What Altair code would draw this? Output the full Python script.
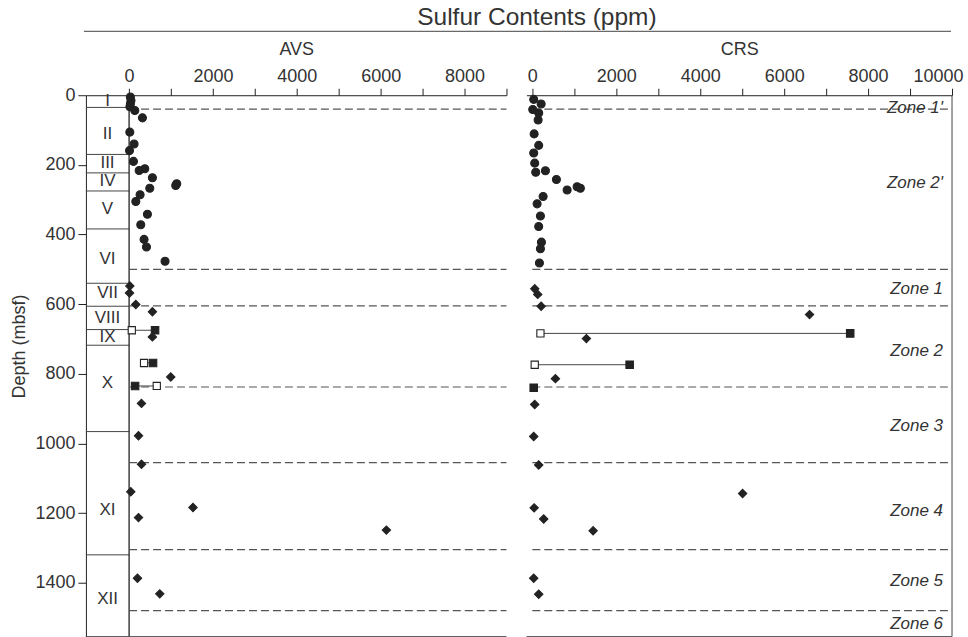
import altair as alt
import pandas as pd

FONT = "Liberation Sans"
INK = "#222222"
TXT = "#333333"

YMAX = 1555
H = 542
WL = 421
WR = 426
AVS_DOMAIN = [-1030, 9000]
CRS_DOMAIN = [-140, 10000]

# lithologic units
unit_labels = ["I", "II", "III", "IV", "V", "VI", "VII", "VIII", "IX", "X", "XI", "XII"]
unit_bounds = [35, 170, 223, 275, 384, 540, 606, 673, 718, 966, 1320]
unit_label_depths = [17, 110, 194, 245, 328, 471, 567, 641, 694, 826, 1190, 1446]

# zones
zone_bounds = [40, 500, 605, 838, 1055, 1305, 1480]
zone_labels = ["Zone 1'", "Zone 2'", "Zone 1", "Zone 2", "Zone 3", "Zone 4", "Zone 5", "Zone 6"]
zone_label_depths = [36, 252, 556, 735, 950, 1193, 1394, 1519]

# AVS (ppm)
avs_circ_depth = [5, 15, 25, 33, 44, 65, 106, 140, 159, 190, 211, 216, 237, 254, 259, 267, 286, 305, 342, 372, 414, 436, 477]
avs_circ_value = [30, 45, 30, 20, 136, 318, 17, 119, 10, 104, 374, 240, 556, 1136, 1112, 493, 262, 160, 437, 278, 357, 414, 857]
avs_dia_depth = [548, 568, 601, 622, 694, 809, 885, 978, 1060, 1139, 1184, 1213, 1249, 1387, 1432]
avs_dia_value = [17, 10, 160, 556, 556, 993, 295, 224, 295, 40, 1524, 224, 6136, 200, 731]
avs_sq_depth = [675, 769, 835]
avs_osq_value = [64, 357, 660]
avs_fsq_value = [619, 571, 143]

# CRS (ppm)
crs_circ_depth = [12, 25, 41, 51, 71, 111, 144, 166, 195, 217, 221, 242, 263, 267, 272, 291, 312, 347, 377, 422, 441, 482]
crs_circ_value = [33, 210, 10, 152, 138, 43, 152, 33, 57, 312, 81, 574, 1067, 1145, 829, 257, 114, 193, 152, 217, 193, 169]
crs_dia_depth = [556, 572, 606, 630, 699, 814, 888, 980, 1062, 1144, 1185, 1217, 1251, 1387, 1433]
crs_dia_value = [57, 129, 210, 6605, 1288, 550, 57, 33, 152, 5010, 43, 271, 1448, 33, 152]
crs_osq_depth = [684, 774]
crs_osq_value = [193, 57]
crs_fsq_depth = [684, 774, 840]
crs_fsq_value = [7574, 2319, 33]

one = pd.DataFrame({"a": [0]})
yscale = alt.Scale(domain=[0, YMAX], reverse=True, nice=False, zero=False)
yaxis = alt.Axis(values=list(range(0, 1401, 200)), title="Depth (mbsf)", grid=False,
                 tickSize=8, tickColor=INK, domainColor=INK, labelFontSize=18,
                 titleFontSize=18, titleFontWeight="normal", labelFont=FONT, titleFont=FONT,
                 labelColor=TXT, titleColor=TXT, labelPadding=3, titlePadding=6,
                 titleY=251, labelFlush=False, labelOverlap=False, format="d")


def xaxis(title, maxv):
    return alt.Axis(orient="top", title=title, values=list(range(0, maxv + 1, 1000)),
                    labelExpr="datum.value % 2000 === 0 ? datum.label : ''", grid=False,
                    tickSize=7, tickColor=INK, domainColor=INK, labelFontSize=18,
                    titleFontSize=18, titleFontWeight="normal", labelFont=FONT, titleFont=FONT,
                    labelColor=TXT, titleColor=TXT, labelPadding=3, titlePadding=9,
                    labelFlush=1, labelFlushOffset=11, labelOverlap=False, format="d")


def panel(domain, title, maxv, show_y):
    xs = alt.Scale(domain=domain, nice=False, zero=False)
    xa = xaxis(title, maxv)
    ya = yaxis if show_y else None

    def X(field=None, datum=None):
        if field is not None:
            return alt.X(field, type="quantitative", scale=xs, axis=xa)
        return alt.X(datum=datum, type="quantitative", scale=xs, axis=xa)

    def Y(field=None, datum=None):
        if field is not None:
            return alt.Y(field, type="quantitative", scale=yscale, axis=ya)
        return alt.Y(datum=datum, type="quantitative", scale=yscale, axis=ya)
    return X, Y


def points(X, Y, depth, value, shape, size, fill=INK, stroke=INK):
    df = pd.DataFrame({"depth": depth, "v": value})
    return alt.Chart(df).mark_point(shape=shape, filled=True, fill=fill, stroke=stroke,
                                    strokeWidth=1.1, size=size, opacity=1).encode(
        x=X("v"), y=Y("depth"))


def zone_lines(X, Y, x0, x1):
    df = pd.DataFrame({"depth": zone_bounds})
    return alt.Chart(df).mark_rule(color="#555555", strokeWidth=1.2, strokeDash=[8, 4]).encode(
        y=Y("depth"), x=X(datum=x0), x2=alt.X2(datum=x1))


def links(X, Y, depth, v1, v2):
    df = pd.DataFrame({"depth": depth, "v": v1, "v2": v2})
    return alt.Chart(df).mark_rule(color="#444444", strokeWidth=1).encode(
        y=Y("depth"), x=X("v"), x2="v2:Q")


# ---------------- left panel (AVS) ----------------
XL, YL = panel(AVS_DOMAIN, "AVS", 9000, True)

units_df = pd.DataFrame({"depth": unit_bounds})
units_lines = alt.Chart(units_df).mark_rule(color="#444444", strokeWidth=1).encode(
    y=YL("depth"), x=XL(datum=AVS_DOMAIN[0]), x2=alt.X2(datum=0))
units_txt_df = pd.DataFrame({"depth": unit_label_depths, "label": unit_labels})
units_txt = alt.Chart(units_txt_df).mark_text(font=FONT, fontSize=17, color=TXT).encode(
    y=YL("depth"), x=XL(datum=-515), text="label:N")
zero_line = alt.Chart(one).mark_rule(color=INK, strokeWidth=1.3).encode(
    x=XL(datum=0), y=YL(datum=0), y2=alt.Y2(datum=YMAX))
bottom_l = alt.Chart(one).mark_rule(color="#444444", strokeWidth=1).encode(
    x=alt.value(0), x2=alt.value(WL), y=alt.value(H))
underline = alt.Chart(one).mark_rule(color="#444444", strokeWidth=1).encode(
    x=alt.value(-2), x2=alt.value(WL + 20 + WR - 1), y=alt.value(-64))

left = alt.layer(
    units_lines, units_txt, zero_line, bottom_l, underline,
    zone_lines(XL, YL, 0, 9000),
    links(XL, YL, avs_sq_depth, avs_osq_value, avs_fsq_value),
    points(XL, YL, avs_circ_depth, avs_circ_value, "circle", 64),
    points(XL, YL, avs_dia_depth, avs_dia_value, "diamond", 70),
    points(XL, YL, avs_sq_depth, avs_osq_value, "square", 52, fill="white"),
    points(XL, YL, avs_sq_depth, avs_fsq_value, "square", 56),
).properties(width=WL, height=H)

# ---------------- right panel (CRS) ----------------
XR, YR = panel(CRS_DOMAIN, "CRS", 10000, False)

bottom_r = alt.Chart(one).mark_rule(color="#444444", strokeWidth=1).encode(
    x=alt.value(0), x2=alt.value(WR), y=alt.value(H))
right_r = alt.Chart(one).mark_rule(color="#444444", strokeWidth=1).encode(
    x=alt.value(WR), y=alt.value(0), y2=alt.value(H))
zone_txt_df = pd.DataFrame({"depth": zone_label_depths, "label": zone_labels})
zone_txt = alt.Chart(zone_txt_df).mark_text(font=FONT, fontSize=17, fontStyle="italic",
                                            color=TXT, align="right", baseline="middle").encode(
    y=YR("depth"), x=alt.value(WR - 9), text="label:N")

right = alt.layer(
    bottom_r, right_r,
    zone_lines(XR, YR, 0, 10000),
    zone_txt,
    links(XR, YR, crs_osq_depth, crs_osq_value, crs_fsq_value[:2]),
    points(XR, YR, crs_circ_depth, crs_circ_value, "circle", 64),
    points(XR, YR, crs_dia_depth, crs_dia_value, "diamond", 70),
    points(XR, YR, crs_osq_depth, crs_osq_value, "square", 52, fill="white"),
    points(XR, YR, crs_fsq_depth, crs_fsq_value, "square", 56),
).properties(width=WR, height=H)

chart = alt.hconcat(left, right, spacing=20, bounds="flush").resolve_scale(
    x="independent", y="independent"
).properties(
    title=alt.Title("Sulfur Contents (ppm)", fontSize=24.5, font=FONT, fontWeight="normal",
                    color=TXT, anchor="middle", dx=50, offset=0),
    padding={"left": 10, "top": 5, "right": 5, "bottom": 0},
    background="white",
).configure_view(stroke=None)

chart.save("out.html", embed_options={"renderer": "svg", "actions": False})
